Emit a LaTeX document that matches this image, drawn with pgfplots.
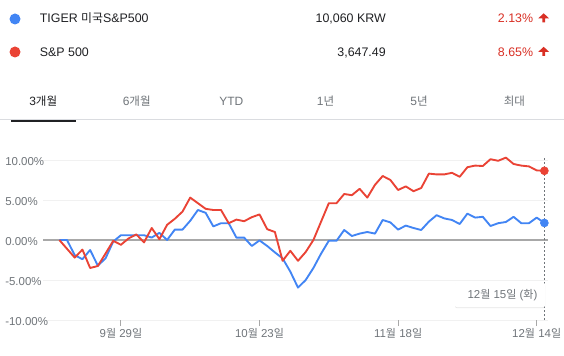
\documentclass[border=0pt]{standalone}
\usepackage{pgfplots}
\usepackage{pgfplotstable}
\pgfplotsset{compat=1.18}
\usepackage{fontspec}
\setmainfont{Liberation Sans}
\newfontfamily\kr{Noto Sans CJK KR}[Scale=0.96]
\usetikzlibrary{shadows}
\definecolor{gblue}{HTML}{4285F4}
\definecolor{gred}{HTML}{EA4335}
\definecolor{pctred}{HTML}{D93025}
\definecolor{txt}{HTML}{202124}
\definecolor{lbl}{HTML}{70757A}
\definecolor{gridc}{HTML}{F1F1F1}
\definecolor{zeroc}{HTML}{A8A8A8}
\definecolor{sep}{HTML}{DADCE0}

\pgfplotstableread{
i tiger spx
0 0 0
1 0 -1.1
2 -1.9 -2.2
3 -2.4 -1.2
4 -1.25 -3.5
5 -3.2 -3.25
6 -2.3 -1.7
7 -0.2 -0.1
8 0.6 -0.6
9 0.6 0.2
10 0.6 0.7
11 0.6 -0.3
12 0.3 1.5
13 0.9 0.1
14 0 1.9
15 1.3 2.65
16 1.3 3.55
17 2.4 5.3
18 3.75 4.6
19 3.4 3.9
20 1.7 3.75
21 2.1 3.75
22 2.1 2.1
23 0.3 2.55
24 0.3 2.35
25 -0.75 2.85
26 -0.05 3.2
27 -0.75 1.35
28 -1.55 1.0
29 -2.3 -2.6
30 -3.95 -1.35
31 -5.95 -2.6
32 -5.0 -1.5
33 -3.5 0
34 -1.7 2.3
35 -0.1 4.6
36 -0.1 4.6
37 1.25 5.75
38 0.5 5.6
39 0.8 6.4
40 1.0 5.3
41 0.8 6.9
42 2.5 8.0
43 2.2 7.5
44 1.3 6.25
45 1.8 6.7
46 1.5 6.1
47 1.25 6.5
48 2.3 8.3
49 3.1 8.2
50 2.7 8.2
51 2.5 8.4
52 2.0 7.9
53 3.3 9.1
54 2.8 9.3
55 2.9 9.25
56 1.75 10.1
57 2.1 9.9
58 2.25 10.3
59 2.9 9.5
60 2.1 9.3
61 2.1 9.2
62 2.8 8.7
63 2.13 8.65
}\data

\begin{document}
\begin{tikzpicture}[x=0.75pt,y=-0.75pt]
\useasboundingbox (0,0) rectangle (564,356);
\fill[white] (0,0) rectangle (564,356);
% legend rows
\fill[gblue] (15,19) circle (5.5);
\fill[gred] (15,52) circle (5.5);
\begin{scope}[every node/.style={inner sep=0pt, text=txt, font=\fontsize{9.3}{11}\selectfont}]
\node[anchor=base west] at (39.6,23) {TIGER {\kr 미국}S\&P500};
\node[anchor=base west] at (39.6,56.5) {S\&P 500};
\node[anchor=base east] at (386,23) {10,060 KRW};
\node[anchor=base east] at (386,56.5) {3,647.49};
\node[anchor=base west, text=pctred] at (497.7,23) {2.13\%};
\node[anchor=base west, text=pctred] at (497.7,56.5) {8.65\%};
\end{scope}
\foreach \dy in {0,33.5}{
  \fill[pctred] (538.3,18.3+\dy) -- (543.7,13.3+\dy) -- (549,18.3+\dy) -- (545.1,18.3+\dy) -- (545.1,22.3+\dy) -- (542.3,22.3+\dy) -- (542.3,18.3+\dy) -- cycle;
}
% tabs
\begin{scope}[every node/.style={inner sep=0pt, text=lbl, font=\fontsize{9}{10}\selectfont}]
\node[anchor=base, text=txt] at (43.2,105.5) {3{\kr 개월}};
\node[anchor=base] at (136.7,105.5) {6{\kr 개월}};
\node[anchor=base] at (231.3,105.5) {YTD};
\node[anchor=base] at (325.6,105.5) {1{\kr 년}};
\node[anchor=base] at (419,105.5) {5{\kr 년}};
\node[anchor=base] at (514.4,105.5) {{\kr 최대}};
\end{scope}
\draw[sep, line width=0.75pt] (0,120) -- (564,120);
\draw[txt, line width=2pt] (10.8,121) -- (75.5,121);
% chart
\coordinate (axSW) at (43,320);
\begin{axis}[at={(axSW)}, anchor=south west, scale only axis,
  width=378.75pt, height=120pt,
  xmin=-2.12, xmax=63.47, ymin=-10, ymax=10, clip=false,
  axis line style={draw=none},
  ytick={-10,-5,5,10},
  yticklabels={-10.00\%,-5.00\%,5.00\%,10.00\%},
  extra y ticks={0}, extra y tick labels={0.00\%},
  extra y tick style={grid=none},
  ymajorgrids, major grid style={gridc, line width=0.75pt},
  ytick style={draw=none},
  yticklabel style={anchor=west, inner sep=0pt, xshift=-24pt, yshift=-1pt, text=lbl, font=\fontsize{8.6}{10}\selectfont},
  xtick={8,26,44,62},
  xticklabels={9{\kr 월} 29{\kr 일},10{\kr 월} 23{\kr 일},11{\kr 월} 18{\kr 일},12{\kr 월} 14{\kr 일}},
  xtick pos=bottom, tick align=outside, major tick length=4.5pt,
  xtick style={draw=zeroc, line width=0.75pt},
  xticklabel style={anchor=north, inner sep=0pt, yshift=-1.5pt, text=lbl, font=\fontsize{8.6}{10}\selectfont},
]
\draw[zeroc, line width=1.1pt] (axis cs:-2.12,0) -- (axis cs:63.47,0);
\draw[lbl, line width=0.6pt, dash pattern=on 1.5pt off 1.5pt] (axis cs:63,-10) -- (axis cs:63,10.4);
\addplot[gblue, line width=1.4pt, line join=round, mark=none] table[x=i, y=tiger] {\data};
\addplot[gred, line width=1.4pt, line join=round, mark=none] table[x=i, y=spx] {\data};
\addplot[only marks, mark=*, mark size=3pt, gblue] coordinates {(63,2.13)};
\addplot[only marks, mark=*, mark size=3pt, gred] coordinates {(63,8.65)};
\end{axis}
% tooltip
\path[fill=white, rounded corners=1.5pt, drop shadow={shadow xshift=0pt, shadow yshift=-0.6pt, opacity=0.2}] (455,282.7) rectangle (545,307.3);
\node[anchor=base east, inner sep=0pt, text=lbl, font=\fontsize{8.6}{10}\selectfont] at (537.7,298.3) {12{\kr 월} 15{\kr 일} ({\kr 화})};
\end{tikzpicture}
\end{document}
